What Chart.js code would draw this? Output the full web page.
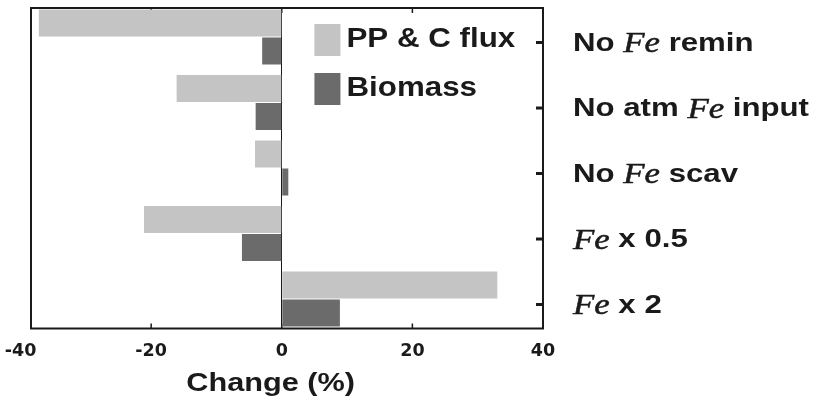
<!DOCTYPE html>
<html>
<head>
<meta charset="utf-8">
<script src="https://cdn.jsdelivr.net/npm/chart.js@4.4.0/dist/chart.umd.min.js"></script>
<style>
  html, body { margin: 0; padding: 0; background: #fff; }
  #wrap { width: 818px; height: 400px; position: relative; }
</style>
</head>
<body>
<div id="wrap"><canvas id="c" width="818" height="400"></canvas></div>
<script>
const categories = ["No Fe remin", "No atm Fe input", "No Fe scav", "Fe x 0.5", "Fe x 2"];
const ppCFlux = [-37.2, -16.1, -4.1, -21.1, 33.0];
const biomass = [-3.0, -4.0, 1.0, -6.1, 8.9];
const xTickValues = [-40, -20, 0, 20, 40];
const seriesNames = ["PP & C flux", "Biomass"];
const axisTitle = "Change (%)";

const INK = "#1a1a1a";
const SANS = "'Liberation Sans', Arial, sans-serif";
const SERIF = "'Liberation Serif', 'Times New Roman', serif";
const AXISFONT = "'DejaVu Sans', sans-serif";
const STRETCH = 1.2;

// draw text horizontally stretched, with italic serif "Fe"
function drawRich(ctx, text, x, y, size) {
  const parts = text.split(/(Fe)/);
  ctx.save();
  ctx.translate(x, y);
  ctx.scale(STRETCH, 1);
  ctx.textBaseline = "middle";
  ctx.textAlign = "left";
  let cx = 0;
  for (const p of parts) {
    if (!p) continue;
    if (p === "Fe") {
      ctx.font = "italic " + (size + 3) + "px " + SERIF;
      ctx.fillText(p, cx, 1);
      ctx.lineWidth = 0.5;
      ctx.strokeStyle = ctx.fillStyle;
      ctx.strokeText(p, cx, 1);
    } else {
      ctx.font = "bold " + size + "px " + SANS;
      ctx.fillText(p, cx, 0);
    }
    cx += ctx.measureText(p).width;
  }
  ctx.restore();
}

const decor = {
  id: "decor",
  beforeDatasetsDraw(chart) {
    const ctx = chart.ctx;
    const a = chart.chartArea;
    const xs = chart.scales.x;
    ctx.save();
    ctx.strokeStyle = INK;
    ctx.lineWidth = 1.5;
    xTickValues.forEach(v => {
      const px = xs.getPixelForValue(v);
      if (px <= a.left + 1 || px >= a.right - 1) return;
      ctx.beginPath();
      ctx.moveTo(px, a.bottom); ctx.lineTo(px, a.bottom - 5);
      ctx.moveTo(px, a.top); ctx.lineTo(px, a.top + 5);
      ctx.stroke();
    });
    ctx.restore();
  },
  afterDraw(chart) {
    const ctx = chart.ctx;
    const a = chart.chartArea;
    const xs = chart.scales.x;
    const ys = chart.scales.y;
    ctx.save();
    // frame
    ctx.strokeStyle = INK;
    ctx.lineWidth = 2;
    ctx.strokeRect(a.left, a.top, a.right - a.left, a.bottom - a.top);
    // inward right ticks + rich category labels
    const shift = 5.5;
    ctx.lineWidth = 3;
    categories.forEach((lab, i) => {
      const py = ys.getPixelForValue(i) + shift;
      ctx.beginPath();
      ctx.moveTo(a.right, py); ctx.lineTo(a.right - 7, py);
      ctx.stroke();
      ctx.fillStyle = INK;
      drawRich(ctx, lab, a.right + 30, py + 1, 26);
    });
    // legend inside plot
    const lx = xs.getPixelForValue(5);
    chart.data.datasets.forEach((ds, i) => {
      const top = a.top + 16 + i * 49;
      ctx.fillStyle = ds.backgroundColor;
      ctx.fillRect(lx, top, 26, 32);
      ctx.fillStyle = INK;
      ctx.save();
      ctx.translate(lx + 32, top + 16);
      ctx.scale(1.16, 1);
      ctx.font = "bold 27px " + SANS;
      ctx.textBaseline = "middle";
      ctx.textAlign = "left";
      ctx.fillText(ds.label, 0, 0);
      ctx.restore();
    });
    // x axis title
    ctx.save();
    ctx.translate(xs.getPixelForValue(-1.7), xs.bottom + 10.5);
    ctx.scale(1.18, 1);
    ctx.fillStyle = INK;
    ctx.font = "bold 26px " + SANS;
    ctx.textBaseline = "middle";
    ctx.textAlign = "center";
    ctx.fillText(axisTitle, 0, 0);
    ctx.restore();
    ctx.restore();
  }
};

new Chart(document.getElementById("c"), {
  type: "bar",
  data: {
    labels: categories,
    datasets: [
      { label: seriesNames[0], data: ppCFlux.map((v, i) => ({ x: v, y: i })), backgroundColor: "#c4c4c4" },
      { label: seriesNames[1], data: biomass.map((v, i) => ({ x: v, y: i })), backgroundColor: "#6b6b6b" }
    ]
  },
  options: {
    indexAxis: "y",
    responsive: false,
    animation: false,
    devicePixelRatio: 1,
    layout: { padding: { left: 31, right: 275, top: 8, bottom: 26.5 } },
    categoryPercentage: 0.855,
    barPercentage: 0.964,
    plugins: { legend: { display: false }, tooltip: { enabled: false } },
    scales: {
      x: {
        type: "linear",
        min: -38.4,
        max: 40,
        afterBuildTicks(scale) { scale.ticks = xTickValues.map(v => ({ value: v })); },
        afterFit(scale) { scale.paddingLeft = 0; scale.paddingRight = 0; },
        grid: {
          drawTicks: false,
          color: ctx => (ctx.tick && ctx.tick.value === 0) ? INK : "rgba(0,0,0,0)",
          lineWidth: 1
        },
        border: { display: false },
        ticks: {
          color: INK,
          font: { family: AXISFONT, weight: "bold", size: 17.5, lineHeight: "21px" },
          padding: 12,
          maxRotation: 0
        },
        title: { display: false, text: axisTitle }
      },
      y: {
        type: "linear",
        reverse: true,
        offset: false,
        min: -0.443,
        max: 4.45,
        afterBuildTicks(scale) { scale.ticks = categories.map((c, i) => ({ value: i })); },
        display: false
      }
    }
  },
  plugins: [decor]
});
</script>
</body>
</html>
